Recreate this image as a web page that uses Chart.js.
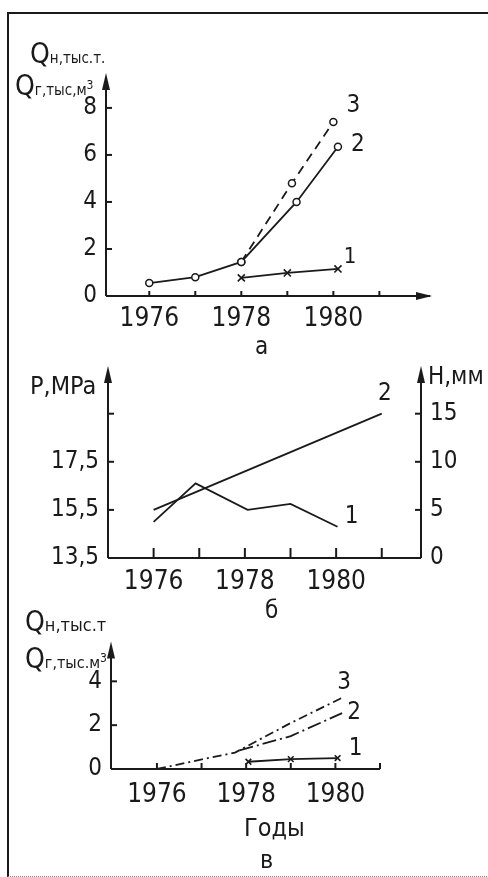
<!DOCTYPE html>
<html>
<head>
<meta charset="utf-8">
<script src="https://cdn.jsdelivr.net/npm/chart.js@4"></script>
<style>
  html, body { margin: 0; padding: 0; background: #fff; }
  body { width: 488px; height: 877px; position: relative; overflow: hidden;
         font-family: "Liberation Sans Narrow", "DejaVu Sans Condensed", "Liberation Sans", sans-serif; color: #1a1a1a; }
  canvas { position: absolute; left: 0; }
  .frame { position: absolute; left: 7px; top: 12px; width: 500px; height: 862px;
           border-left: 2px solid #1a1a1a; border-top: 2px solid #1a1a1a; border-bottom: 1px dotted #888; }
  .txt { position: absolute; white-space: nowrap; line-height: 1; }
  .big { font-size: 28px; }
  .sm  { font-size: 15px; }
</style>
</head>
<body>
<div class="frame"></div>
<canvas id="chartA" width="488" height="340" style="top:0"></canvas>
<canvas id="chartB" width="488" height="280" style="top:340px"></canvas>
<canvas id="chartC" width="488" height="257" style="top:620px"></canvas>

<div class="txt" style="left:30px;top:40px"><span class="big">Q</span><span class="sm">н,тыс.т.</span></div>
<div class="txt" style="left:15px;top:72px"><span class="big">Q</span><span class="sm">г,тыс,м<sup style="font-size:12px">3</sup></span></div>
<div class="txt" style="left:255px;top:334px;font-size:24px">а</div>

<div class="txt" style="left:30px;top:373px;font-size:25px">P,MPa</div>
<div class="txt" style="left:428px;top:364px;font-size:24px">H,мм</div>
<div class="txt" style="left:265px;top:598px;font-size:24px">б</div>

<div class="txt" style="left:25px;top:608px"><span class="big">Q</span><span style="font-size:18px">н,тыс.т</span></div>
<div class="txt" style="left:25px;top:645px"><span class="big">Q</span><span style="font-size:16px">г,тыс.м<sup style="font-size:12px">3</sup></span></div>
<div class="txt" style="left:244px;top:815px;font-size:25px">Годы</div>
<div class="txt" style="left:260px;top:847px;font-size:25px">в</div>

<script>
// panel a: Q vs year, curves 1-3
const A_X1 = [1978, 1979, 1980.1];
const A_Q1 = [0.77, 0.98, 1.15];
const A_X2 = [1976, 1977, 1978, 1979.2, 1980.1];
const A_Q2 = [0.55, 0.8, 1.45, 4.0, 6.35];
const A_X3 = [1978, 1979.1, 1980];
const A_Q3 = [1.45, 4.8, 7.4];
const A_YTICKS = [0, 2, 4, 6, 8];

// panel б: P (MPa) and H (mm)
const B_XP = [1976, 1976.92, 1978.06, 1979, 1980.03];
const B_P  = [15.0, 16.6, 15.5, 15.75, 14.8];
const B_XH = [1976, 1981];
const B_H  = [5.0, 15.0];
const B_PTICKS = [13.5, 15.5, 17.5, 19.5];
const B_PLABELS = ['13,5', '15,5', '17,5', ''];
const B_HTICKS = [0, 5, 10, 15];

// panel в
const C_X1 = [1978.05, 1979, 1980.05];
const C_Q1 = [0.33, 0.45, 0.5];
const C_X2 = [1977.85, 1979, 1980.15];
const C_Q2 = [0.85, 1.5, 2.55];
const C_X3 = [1976, 1976.8, 1977.75, 1979, 1980.15];
const C_Q3 = [0, 0.35, 0.75, 2.1, 3.25];
const C_YTICKS = [0, 2, 4];

const YEARS = [1976, 1977, 1978, 1979, 1980, 1981];
const YEAR_LABELS = { 1976: '1976', 1978: '1978', 1980: '1980' };

const INK = '#1a1a1a';
const FONT = '"Liberation Sans Narrow", "DejaVu Sans Condensed", "Liberation Sans", sans-serif';

const pts = (xs, ys) => xs.map((x, i) => ({ x, y: ys[i] }));

// axes drawn by hand: inward ticks and arrow heads
const sketchAxes = {
  id: 'sketchAxes',
  afterDraw(chart, args, opts) {
    const { ctx, chartArea: a } = chart;
    ctx.save();
    ctx.strokeStyle = INK;
    ctx.fillStyle = INK;
    ctx.lineWidth = 2;
    const seg = (x1, y1, x2, y2) => { ctx.beginPath(); ctx.moveTo(x1, y1); ctx.lineTo(x2, y2); ctx.stroke(); };
    const tri = (p) => { ctx.beginPath(); ctx.moveTo(p[0], p[1]); ctx.lineTo(p[2], p[3]); ctx.lineTo(p[4], p[5]); ctx.closePath(); ctx.fill(); };

    (opts.axes || []).forEach(ax => {
      const s = chart.scales[ax.id];
      if (ax.id === 'x') {
        seg(a.left, a.bottom, a.right, a.bottom);
        s.ticks.forEach(t => {
          const px = s.getPixelForValue(t.value);
          seg(px, a.bottom, px, a.bottom - ax.tick);
        });
        if (ax.arrow) tri([a.right + 2, a.bottom, a.right - 14, a.bottom - 4, a.right - 14, a.bottom + 4]);
      } else {
        const x = ax.side === 'right' ? a.right : a.left;
        const dir = ax.side === 'right' ? -1 : 1;
        seg(x, a.bottom, x, a.top + 4);
        s.ticks.forEach(t => {
          const py = s.getPixelForValue(t.value);
          seg(x, py, x + dir * ax.tick, py);
        });
        if (ax.arrow) tri([x, a.top - 2, x - 4, a.top + 15, x + 4, a.top + 15]);
      }
    });
    ctx.restore();
  }
};

// curve numbers next to the last point
const curveTags = {
  id: 'curveTags',
  afterDatasetsDraw(chart) {
    const ctx = chart.ctx;
    chart.data.datasets.forEach((ds, i) => {
      if (!ds.tag) return;
      const el = chart.getDatasetMeta(i).data[ds.data.length - 1];
      ctx.save();
      ctx.font = (ds.tagSize || 24) + 'px ' + FONT;
      ctx.fillStyle = INK;
      ctx.textAlign = 'center';
      ctx.textBaseline = 'middle';
      ctx.fillText(ds.tag, el.x + ds.tagDx, el.y + ds.tagDy);
      ctx.restore();
    });
  }
};

const solid = { borderColor: INK, borderWidth: 1.8, tension: 0, fill: false };
const circles = { pointStyle: 'circle', pointRadius: 3.5, pointBackgroundColor: '#fff', pointBorderColor: INK, pointBorderWidth: 1.5 };
const crosses = { pointStyle: 'crossRot', pointRadius: 5, pointBorderColor: INK, pointBorderWidth: 1.6 };
const noPoints = { pointRadius: 0 };

function xScale(min, max, height, pad) {
  return {
    type: 'linear', min, max,
    afterBuildTicks: s => { s.ticks = YEARS.filter(v => v <= max).map(v => ({ value: v })); },
    afterFit: s => { s.height = height; },
    grid: { display: false, drawTicks: false },
    border: { display: false },
    ticks: { color: INK, padding: pad, maxRotation: 0, autoSkip: false,
             font: { family: FONT, size: 26 }, callback: v => YEAR_LABELS[v] || '' }
  };
}

function yScale(min, max, values, labels, width, position) {
  return {
    type: 'linear', min, max, position,
    afterBuildTicks: s => { s.ticks = values.map(v => ({ value: v })); },
    afterFit: s => { s.width = width; },
    grid: { display: false, drawTicks: false },
    border: { display: false },
    ticks: { color: INK, padding: 9, autoSkip: false,
             font: { family: FONT, size: 24 }, callback: (v, i) => labels[i] }
  };
}

function baseOptions(padding, scales, axes) {
  return {
    responsive: false,
    animation: false,
    layout: { padding },
    plugins: { legend: { display: false }, tooltip: { enabled: false }, sketchAxes: { axes } },
    scales
  };
}

Chart.register(sketchAxes, curveTags);

new Chart(document.getElementById('chartA'), {
  type: 'line',
  data: {
    datasets: [
      { data: pts(A_X1, A_Q1), ...solid, ...crosses, tag: '1', tagDx: 12, tagDy: -12, tagSize: 22 },
      { data: pts(A_X2, A_Q2), ...solid, ...circles, tag: '2', tagDx: 20, tagDy: -2 },
      { data: pts(A_X3, A_Q3), ...solid, borderDash: [9, 6], ...circles, tag: '3', tagDx: 20, tagDy: -16 }
    ]
  },
  options: baseOptions(
    { top: 75, right: 58, bottom: 0, left: 0 },
    {
      x: xScale(1975.06, 1982.1, 44, 8),
      y: yScale(0, 9.4, A_YTICKS, A_YTICKS.map(String), 106, 'left')
    },
    [{ id: 'x', tick: 5, arrow: true }, { id: 'y', tick: 6, arrow: true, side: 'left' }]
  )
});

new Chart(document.getElementById('chartB'), {
  type: 'line',
  data: {
    datasets: [
      { data: pts(B_XP, B_P), yAxisID: 'y', ...solid, ...noPoints, tag: '1', tagDx: 14, tagDy: -10 },
      { data: pts(B_XH, B_H), yAxisID: 'y1', ...solid, ...noPoints, tag: '2', tagDx: 3, tagDy: -20 }
    ]
  },
  options: baseOptions(
    { top: 28, right: 0, bottom: 0, left: 0 },
    {
      x: xScale(1975.0, 1981.86, 62, 9),
      y: yScale(13.5, 21.4, B_PTICKS, B_PLABELS, 108, 'left'),
      y1: yScale(0, 19.75, B_HTICKS, B_HTICKS.map(String), 67, 'right')
    },
    [{ id: 'x', tick: 10 }, { id: 'y', tick: 6, arrow: true, side: 'left' }, { id: 'y1', tick: 6, arrow: true, side: 'right' }]
  )
});

new Chart(document.getElementById('chartC'), {
  type: 'line',
  data: {
    datasets: [
      { data: pts(C_X1, C_Q1), ...solid, ...crosses, pointRadius: 4, tag: '1', tagDx: 18, tagDy: -9 },
      { data: pts(C_X2, C_Q2), ...solid, borderDash: [14, 4, 2, 4], ...noPoints, tag: '2', tagDx: 12, tagDy: 0 },
      { data: pts(C_X3, C_Q3), ...solid, borderDash: [9, 4, 2, 4], ...noPoints, tag: '3', tagDx: 2, tagDy: -15 }
    ]
  },
  options: baseOptions(
    { top: 10, right: 108, bottom: 0, left: 0 },
    {
      x: xScale(1974.97, 1981.0, 108, 11),
      y: yScale(0, 5.73, C_YTICKS, C_YTICKS.map(String), 111, 'left')
    },
    [{ id: 'x', tick: 6 }, { id: 'y', tick: 6, arrow: true, side: 'left' }]
  )
});
</script>
</body>
</html>
